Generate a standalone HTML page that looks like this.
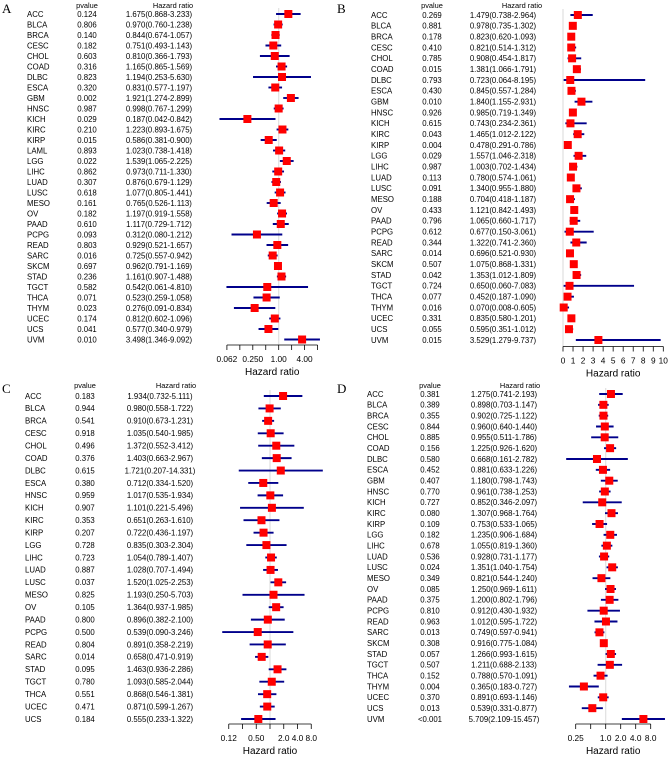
<!DOCTYPE html>
<html><head><meta charset="utf-8"><style>
html,body{margin:0;padding:0;background:#fff;}
svg{display:block;font-family:"Liberation Sans",sans-serif;}
</style></head><body>
<svg id="fig" width="669" height="758" viewBox="0 0 669 758" xmlns="http://www.w3.org/2000/svg"></svg>
<script>
// Panel A data
const namesA=["ACC","BLCA","BRCA","CESC","CHOL","COAD","DLBC","ESCA","GBM","HNSC","KICH","KIRC","KIRP","LAML","LGG","LIHC","LUAD","LUSC","MESO","OV","PAAD","PCPG","READ","SARC","SKCM","STAD","TGCT","THCA","THYM","UCEC","UCS","UVM"];
const pvalA=["0.124","0.806","0.140","0.182","0.603","0.316","0.823","0.320","0.002","0.987","0.029","0.210","0.015","0.893","0.022","0.862","0.307","0.618","0.161","0.182","0.610","0.093","0.803","0.016","0.697","0.236","0.582","0.071","0.023","0.174","0.041","0.010"];
const hrA=[1.675,0.970,0.844,0.751,0.810,1.165,1.194,0.831,1.921,0.998,0.187,1.223,0.586,1.023,1.539,0.973,0.876,1.077,0.765,1.197,1.117,0.312,0.929,0.725,0.962,1.161,0.542,0.523,0.276,0.812,0.577,3.498];
const loA=[0.868,0.760,0.674,0.493,0.366,0.865,0.253,0.577,1.274,0.767,0.042,0.893,0.381,0.738,1.065,0.711,0.679,0.805,0.526,0.919,0.729,0.080,0.521,0.557,0.791,0.907,0.061,0.259,0.091,0.602,0.340,1.346];
const hiA=[3.233,1.238,1.057,1.143,1.793,1.569,5.630,1.197,2.899,1.299,0.842,1.675,0.900,1.418,2.225,1.330,1.129,1.441,1.113,1.558,1.712,1.212,1.657,0.942,1.169,1.488,4.810,1.058,0.834,1.096,0.979,9.092];
const ticksA=["0.062","0.250","1.00","4.00"];
// Panel B data
const namesB=["ACC","BLCA","BRCA","CESC","CHOL","COAD","DLBC","ESCA","GBM","HNSC","KICH","KIRC","KIRP","LGG","LIHC","LUAD","LUSC","MESO","OV","PAAD","PCPG","READ","SARC","SKCM","STAD","TGCT","THCA","THYM","UCEC","UCS","UVM"];
const pvalB=["0.269","0.881","0.178","0.410","0.785","0.015","0.793","0.430","0.010","0.926","0.615","0.043","0.004","0.029","0.987","0.113","0.091","0.188","0.433","0.796","0.612","0.344","0.014","0.507","0.042","0.724","0.077","0.016","0.331","0.055","0.015"];
const hrB=[1.479,0.978,0.823,0.821,0.908,1.381,0.723,0.845,1.840,0.985,0.743,1.465,0.478,1.557,1.003,0.780,1.340,0.704,1.121,1.065,0.677,1.322,0.696,1.075,1.353,0.650,0.452,0.070,0.835,0.595,3.529];
const loB=[0.738,0.735,0.620,0.514,0.454,1.066,0.064,0.557,1.155,0.719,0.234,1.012,0.291,1.046,0.702,0.574,0.955,0.418,0.842,0.660,0.150,0.741,0.521,0.868,1.012,0.060,0.187,0.008,0.580,0.351,1.279];
const hiB=[2.964,1.302,1.093,1.312,1.817,1.791,8.195,1.284,2.931,1.349,2.361,2.122,0.786,2.318,1.434,1.061,1.880,1.187,1.493,1.717,3.061,2.360,0.930,1.331,1.809,7.083,1.090,0.605,1.201,1.012,9.737];
const ticksB=["0","1","2","3","4","5","6","7","8","9","10"];
// Panel C data
const namesC=["ACC","BLCA","BRCA","CESC","CHOL","COAD","DLBC","ESCA","HNSC","KICH","KIRC","KIRP","LGG","LIHC","LUAD","LUSC","MESO","OV","PAAD","PCPG","READ","SARC","STAD","TGCT","THCA","UCEC","UCS"];
const pvalC=["0.183","0.944","0.541","0.918","0.496","0.376","0.615","0.380","0.959","0.907","0.353","0.207","0.728","0.723","0.887","0.037","0.825","0.105","0.800","0.500","0.804","0.014","0.095","0.780","0.551","0.471","0.184"];
const hrC=[1.934,0.980,0.910,1.035,1.372,1.403,1.721,0.712,1.017,1.101,0.651,0.722,0.835,1.054,1.028,1.520,1.193,1.364,0.896,0.539,0.891,0.658,1.463,1.093,0.868,0.871,0.555];
const loC=[0.732,0.558,0.673,0.540,0.552,0.663,0.207,0.334,0.535,0.221,0.263,0.436,0.303,0.789,0.707,1.025,0.250,0.937,0.382,0.090,0.358,0.471,0.936,0.585,0.546,0.599,0.233];
const hiC=[5.111,1.722,1.231,1.985,3.412,2.967,14.331,1.520,1.934,5.496,1.610,1.197,2.304,1.407,1.494,2.253,5.703,1.985,2.100,3.246,2.219,0.919,2.286,2.044,1.381,1.267,1.322];
const ticksC=["0.12","0.50","2.0","4.0","8.0"];
// Panel D data
const namesD=["ACC","BLCA","BRCA","CESC","CHOL","COAD","DLBC","ESCA","GBM","HNSC","KICH","KIRC","KIRP","LGG","LIHC","LUAD","LUSC","MESO","OV","PAAD","PCPG","READ","SARC","SKCM","STAD","TGCT","THCA","THYM","UCEC","UCS","UVM"];
const pvalD=["0.381","0.389","0.355","0.844","0.885","0.156","0.580","0.452","0.407","0.770","0.727","0.080","0.109","0.182","0.678","0.536","0.024","0.349","0.085","0.375","0.810","0.963","0.013","0.308","0.057","0.507","0.152","0.004","0.370","0.013","<0.001"];
const hrD=[1.275,0.898,0.902,0.960,0.955,1.225,0.668,0.881,1.180,0.961,0.852,1.307,0.753,1.235,1.055,0.928,1.351,0.821,1.250,1.200,0.912,1.012,0.749,0.916,1.266,1.211,0.788,0.365,0.891,0.539,5.709];
const loD=[0.741,0.703,0.725,0.640,0.511,0.926,0.161,0.633,0.798,0.738,0.346,0.968,0.533,0.906,0.819,0.731,1.040,0.544,0.969,0.802,0.430,0.595,0.597,0.775,0.993,0.688,0.570,0.183,0.693,0.331,2.109];
const hiD=[2.193,1.147,1.122,1.440,1.786,1.620,2.782,1.226,1.743,1.253,2.097,1.764,1.065,1.684,1.360,1.177,1.754,1.240,1.611,1.796,1.932,1.722,0.941,1.084,1.615,2.133,1.091,0.727,1.146,0.877,15.457];
const ticksD=["0.25","1.0","2.0","4.0","8.0"];

const NS="http://www.w3.org/2000/svg";
const svg=document.getElementById('fig');
function mk(tag,attrs,parent){const e=document.createElementNS(NS,tag);for(const k in attrs)e.setAttribute(k,attrs[k]);(parent||svg).appendChild(e);return e;}
function txt(s,x,y,size,anchor,parent,family){const t=mk('text',{x:x,y:y,'font-size':size,'text-anchor':anchor||'start',fill:'#000'},parent);if(family)t.setAttribute('font-family',family);t.textContent=s;return t;}
function f3(v){return v.toFixed(3);}

function panel(cfg){
  const g=mk('g',{});
  
  
  const L=txt(cfg.letter,cfg.ox+2,cfg.ly,13,'start',g,'"Liberation Serif",serif');
  
  
  const hp=txt('pvalue',cfg.pc,cfg.hy,7.4,'middle',g);
  
  
  const hh=txt('Hazard ratio',cfg.hc,cfg.hy,7.4,'middle',g);
  
  
  const n=cfg.names.length;
  const rowY=i=>cfg.y0+i*(cfg.y1-cfg.y0)/(n-1);
  const X=cfg.scale;
  const ref=mk('line',{x1:X(cfg.refv),x2:X(cfg.refv),y1:cfg.y0-6,y2:cfg.axisY,stroke:'#e0e0e0','stroke-width':1.2},g);
  
  
  for(let i=0;i<n;i++){
    const y=rowY(i);
    const r=mk('g',{},g);
    
    
    txt(cfg.names[i],cfg.nx,y+2.8,7.8,'start',r);
    txt(cfg.pvals[i],cfg.pc,y+2.8,7.8,'middle',r);
    txt(f3(cfg.hr[i])+'('+f3(cfg.lo[i])+'-'+f3(cfg.hi[i])+')',cfg.hrc,y+2.8,7.8,'middle',r);
    const ci=mk('line',{x1:X(cfg.lo[i]),x2:X(cfg.hi[i]),y1:y,y2:y,stroke:'#00008b','stroke-width':1.9},r);
    
    
    const s=cfg.sq;
    const sqr=mk('rect',{x:X(cfg.hr[i])-s/2,y:y-s/2,width:s,height:s,fill:'#ff0000'},r);
    
    
  }
  const ax=mk('g',{},g);
  
  
  mk('line',{x1:X(cfg.tickVals[0]),x2:X(cfg.tickVals[cfg.tickVals.length-1]),y1:cfg.axisY,y2:cfg.axisY,stroke:'#000','stroke-width':0.8},ax);
  cfg.tickVals.forEach(v=>{mk('line',{x1:X(v),x2:X(v),y1:cfg.axisY,y2:cfg.axisY+5,stroke:'#000','stroke-width':0.8},ax);});
  cfg.labelVals.forEach((v,j)=>{const t=txt(cfg.labels[j],X(v),cfg.axisY+17,8.3,'middle',ax);
    
    });
  const at=txt('Hazard ratio',(X(cfg.tickVals[0])+X(cfg.tickVals[cfg.tickVals.length-1]))/2,cfg.axisY+30,10,'middle',ax);
  
  
}
const log2=Math.log2;
function logScale(x1,step){return v=>x1+log2(v)*step;}
function pow2(a,b){const r=[];for(let k=a;k<=b;k++)r.push(Math.pow(2,k));return r;}

panel({letter:'A',ox:0,ly:13,hy:8,nx:27,pc:87,hrc:159,hc:173,y0:14,y1:339.5,sq:8,
  names:namesA,pvals:pvalA,hr:hrA,lo:loA,hi:hiA,refv:1,scale:logScale(278.7,12.95),
  tickVals:pow2(-4,3),labelVals:[1/16,1/4,1,4],labels:ticksA,axisY:345});
panel({letter:'B',ox:335,ly:13,hy:8,nx:371,pc:432,hrc:503,hc:522,y0:15,y1:340,sq:8,
  names:namesB,pvals:pvalB,hr:hrB,lo:loB,hi:hiB,refv:0,scale:v=>563+v*10.03,
  tickVals:[0,1,2,3,4,5,6,7,8,9,10],labelVals:[0,1,2,3,4,5,6,7,8,9,10],labels:ticksB,axisY:346.5});
panel({letter:'C',ox:0,ly:393,hy:388,nx:25,pc:85,hrc:160,hc:176,y0:396,y1:719,sq:8,
  names:namesC,pvals:pvalC,hr:hrC,lo:loC,hi:hiC,refv:1,scale:logScale(270,13.75),
  tickVals:pow2(-3,3),labelVals:[0.125,0.5,2,4,8],labels:ticksC,axisY:724});
panel({letter:'D',ox:335,ly:393,hy:388,nx:367,pc:430,hrc:504,hc:520,y0:394,y1:719,sq:8,
  names:namesD,pvals:pvalD,hr:hrD,lo:loD,hi:hiD,refv:1,scale:logScale(605.7,15),
  tickVals:pow2(-2,3),labelVals:[0.25,1,2,4,8],labels:ticksD,axisY:724});
</script>
</body></html>
